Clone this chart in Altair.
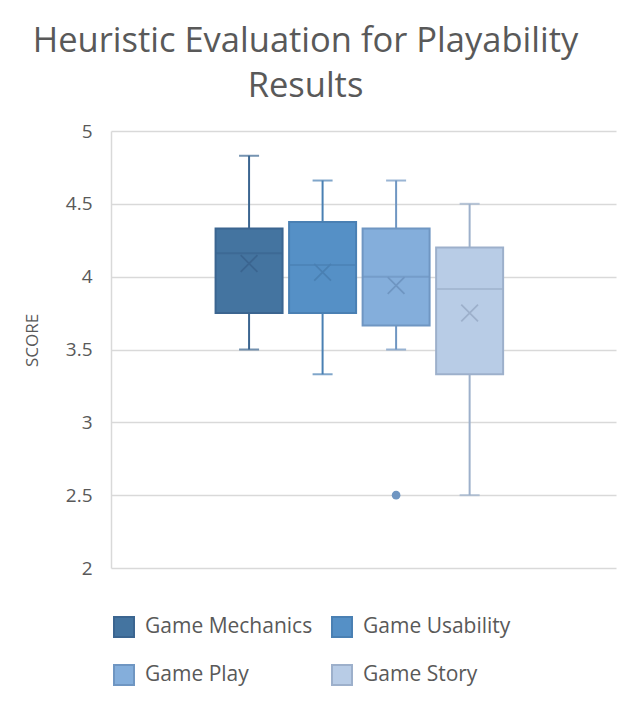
import altair as alt
import pandas as pd

series = ["Game Mechanics", "Game Usability", "Game Play", "Game Story"]
whisker_low = [3.5, 3.33, 3.5, 2.5]
q1 = [3.75, 3.75, 3.665, 3.33]
median = [4.16, 4.08, 4.0, 3.915]
q3 = [4.33, 4.375, 4.33, 4.2]
whisker_high = [4.83, 4.66, 4.66, 4.5]
mean = [4.09, 4.03, 3.94, 3.75]
outlier_series = ["Game Play"]
outlier_values = [2.5]
y_ticks = [2, 2.5, 3, 3.5, 4, 4.5, 5]

fills = ["#4474a0", "#5590c6", "#84aedb", "#b8cce6"]
strokes = ["#3b6590", "#4a80b3", "#6f96c2", "#9db0cb"]

FONT = "Open Sans"
TEXT = "#595959"
GRID = "#d9d9d9"

df = pd.DataFrame({
    "series": series, "low": whisker_low, "q1": q1, "median": median,
    "q3": q3, "high": whisker_high, "mean": mean,
})
df["pos"] = [series.index(s) for s in df["series"]]
out_df = pd.DataFrame({"series": outlier_series, "value": outlier_values})
out_df["pos"] = [series.index(s) for s in out_df["series"]]

xenc = alt.X("pos:Q", axis=None,
             scale=alt.Scale(domain=[-1.81, 4.923], nice=False, zero=False))
yscale = alt.Scale(domain=[2, 5], nice=False, zero=False)
line_color = alt.Color("series:N", scale=alt.Scale(domain=series, range=strokes), legend=None)

legend = alt.Legend(title=None, orient="none", legendX=2, legendY=485,
                    direction="horizontal",
                    columns=2, symbolType="square", symbolSize=400,
                    symbolStrokeWidth=2, labelFont=FONT, labelFontSize=21,
                    labelColor=TEXT, labelOffset=10, labelLimit=300, rowPadding=20,
                    columnPadding=15)

base = alt.Chart(df)

yaxis = alt.Axis(
    values=y_ticks, format="~g", labelFontSize=19, labelFont=FONT, labelColor=TEXT,
    labelPadding=19, ticks=False, domainColor=GRID, domainWidth=1.5,
    gridColor=GRID, gridWidth=1.5, title="SCORE", titleFont=FONT,
    titleFontSize=17, titleColor=TEXT, titleFontWeight="normal",
    titleAngle=270, titleX=-79, titleY=209, titleAlign="center",
    titleBaseline="middle")

box = base.mark_bar(strokeWidth=2, size=67).encode(
    x=xenc,
    y=alt.Y("q1:Q", scale=yscale, axis=yaxis),
    y2="q3:Q",
    fill=alt.Fill("series:N", sort=series, scale=alt.Scale(domain=series, range=fills),
                  legend=legend),
    stroke=alt.Stroke("series:N", sort=series, scale=alt.Scale(domain=series, range=strokes),
                      legend=legend),
)

whisker_lo = base.mark_rule(strokeWidth=2).encode(
    x=xenc, y=alt.Y("low:Q", scale=yscale), y2="q1:Q", color=line_color)
whisker_hi = base.mark_rule(strokeWidth=2).encode(
    x=xenc, y=alt.Y("q3:Q", scale=yscale), y2="high:Q", color=line_color)

med = base.mark_tick(size=67, thickness=2, orient="horizontal").encode(
    x=xenc, y=alt.Y("median:Q", scale=yscale), color=line_color)

cap_low = base.mark_tick(size=20, thickness=2, orient="horizontal").encode(
    x=xenc, y=alt.Y("low:Q", scale=yscale), color=line_color)
cap_high = base.mark_tick(size=20, thickness=2, orient="horizontal").encode(
    x=xenc, y=alt.Y("high:Q", scale=yscale), color=line_color)

mean_pt = base.mark_point(shape="M -1 -1 L 1 1 M -1 1 L 1 -1", filled=False,
                          size=280, strokeWidth=1.8, opacity=1).encode(
    x=xenc, y=alt.Y("mean:Q", scale=yscale), color=line_color)

outl = alt.Chart(out_df).mark_point(shape="circle", filled=True, size=75, opacity=1).encode(
    x=xenc, y=alt.Y("value:Q", scale=yscale), color=line_color)

chart = alt.layer(box, whisker_lo, whisker_hi, med, cap_low, cap_high, mean_pt, outl).properties(
    width=505, height=437,
    padding={"left": 111, "top": 131, "right": 16, "bottom": 153},
    autosize=alt.AutoSizeParams(type="none"),
    background="white",
    title=alt.Title(["Heuristic Evaluation for Playability", "Results"], fontSize=34.5,
                    font=FONT, color=TEXT, fontWeight="normal", lineHeight=45,
                    anchor="middle", frame="group", dx=-58, offset=18),
).configure_view(strokeOpacity=0)

chart.save("out.html", embed_options={"renderer": "svg", "actions": False})
